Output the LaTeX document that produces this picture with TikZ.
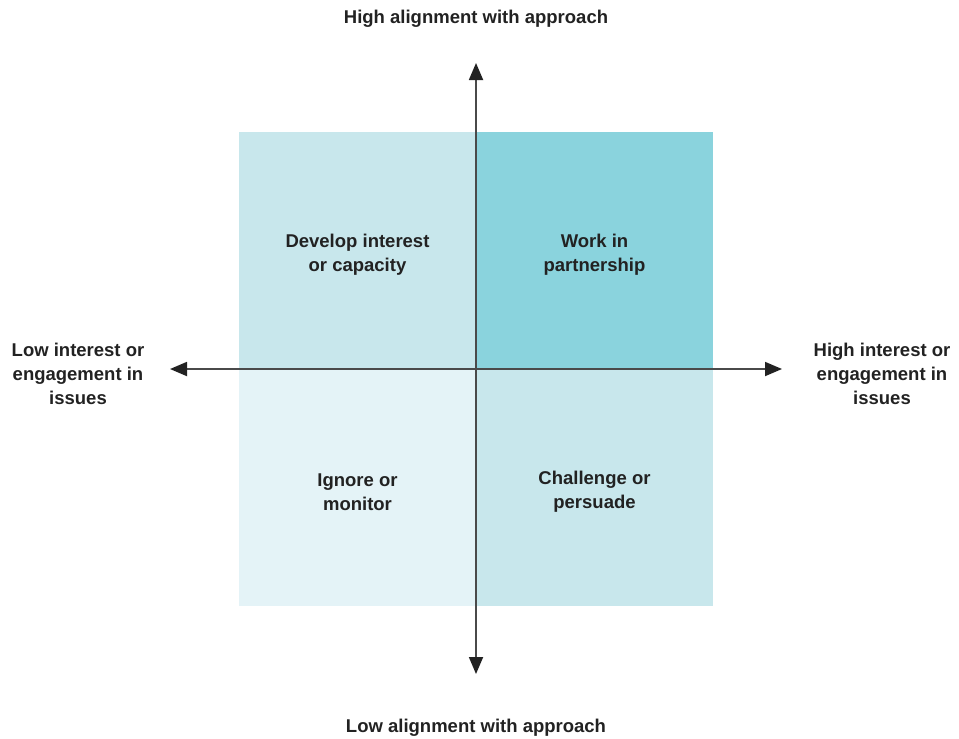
\documentclass[tikz,border=0pt]{standalone}
\usepackage{fontspec}
\setmainfont{Liberation Sans}
\usetikzlibrary{arrows.meta}
\definecolor{qlight}{HTML}{C8E7EC}
\definecolor{qdark}{HTML}{8AD3DD}
\definecolor{qpale}{HTML}{E4F3F7}
\definecolor{txt}{HTML}{222222}
\definecolor{axisc}{HTML}{4A4A4A}
\begin{document}
\begin{tikzpicture}[x=1pt,y=-1pt,
  lbl/.style={text=txt,font=\fontsize{18.5}{24}\selectfont\bfseries,align=center,inner sep=0pt},
  axisline/.style={draw=axisc,line width=1.8pt,-{Triangle[length=17pt,width=14pt,fill=txt,color=txt]}},
  quad/.style={draw=none,inner sep=0pt,minimum width=237pt,minimum height=237pt}]
\useasboundingbox (0,0) rectangle (959,739);
\node[quad,fill=qlight,anchor=north west] (tl) at (239,132) {};
\node[quad,fill=qdark,anchor=north west] (tr) at (476,132) {};
\node[quad,fill=qpale,anchor=north west] (bl) at (239,369) {};
\node[quad,fill=qlight,anchor=north west] (br) at (476,369) {};
\coordinate (c) at (476,369);
\coordinate (up) at (476,63);
\coordinate (down) at (476,674);
\coordinate (left) at (170,369);
\coordinate (right) at (782,369);
\draw[axisline] (c) -- (up);
\draw[axisline] (c) -- (down);
\draw[axisline] (c) -- (left);
\draw[axisline] (c) -- (right);
\node[lbl] (ttl) at (357.5,255) {Develop interest\\or capacity};
\node[lbl] (ttr) at (594.5,255) {Work in\\partnership};
\node[lbl] (tbl) at (357.5,492) {Ignore or\\monitor};
\node[lbl] (tbr) at (594.5,492) {Challenge or\\persuade};
\node[lbl] (top) at (476,19) {High alignment with approach};
\node[lbl] (bot) at (476,728) {Low alignment with approach};
\node[lbl] (lft) at (78,374) {Low interest or\\engagement in\\issues};
\node[lbl] (rgt) at (882,374) {High interest or\\engagement in\\issues};
\end{tikzpicture}
\end{document}
